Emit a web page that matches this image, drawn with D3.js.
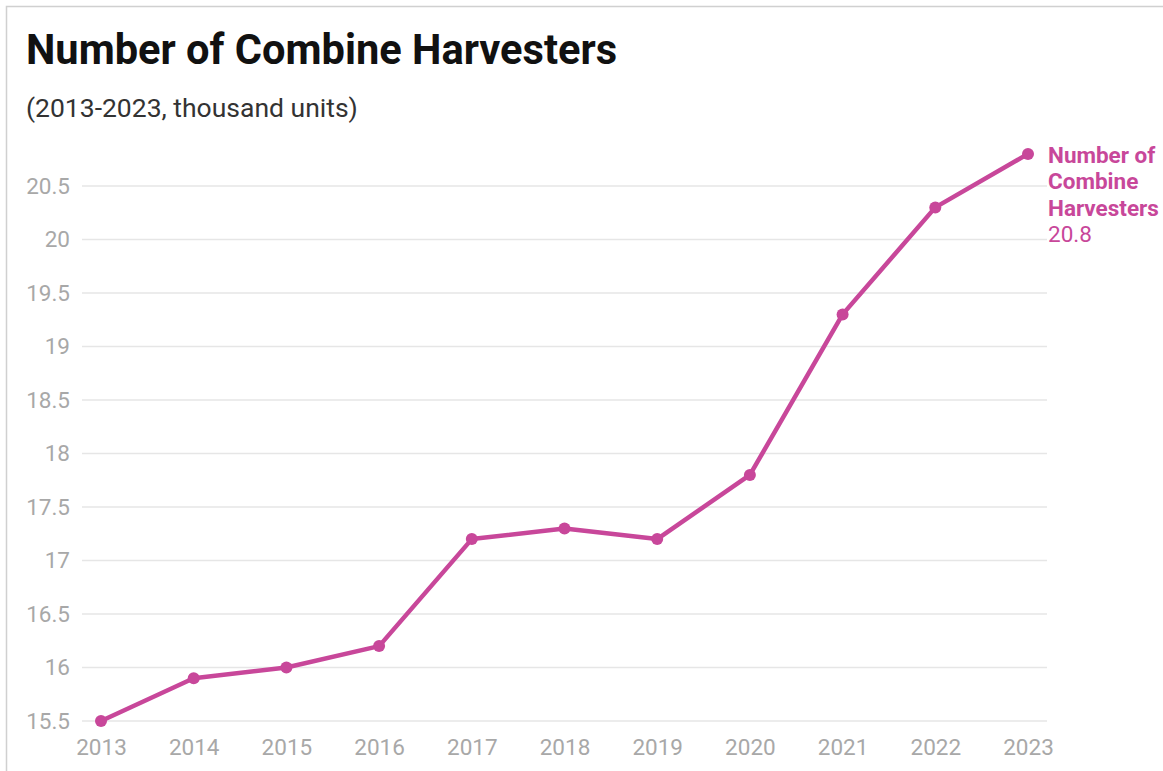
<!DOCTYPE html>
<html>
<head>
<meta charset="utf-8">
<script src="https://cdn.jsdelivr.net/npm/d3@7"></script>
<style>
  body { margin: 0; background: #fff; }
  text { font-family: Roboto, "Open Sans", sans-serif; }
</style>
</head>
<body>
<div id="chart"></div>
<script>
// data
var years = [2013, 2014, 2015, 2016, 2017, 2018, 2019, 2020, 2021, 2022, 2023];
var harvesters = [15.5, 15.9, 16.0, 16.2, 17.2, 17.3, 17.2, 17.8, 19.3, 20.3, 20.8];
var yTicks = [15.5, 16, 16.5, 17, 17.5, 18, 18.5, 19, 19.5, 20, 20.5];
var seriesName = ['Number of', 'Combine', 'Harvesters'];

var width = 1163, height = 771;
var lineColor = '#c8479a';

var svg = d3.select('#chart').append('svg')
    .attr('width', width)
    .attr('height', height);

// frame
svg.append('path')
    .attr('d', 'M6.5,771 L6.5,6.5 L1163,6.5')
    .attr('fill', 'none')
    .attr('stroke', '#d0d0d0')
    .attr('stroke-width', 1.5);

svg.append('text')
    .attr('x', 26).attr('y', 64)
    .style('font-size', '41.6px')
    .style('font-weight', 'bold')
    .attr('fill', '#111')
    .text('Number of Combine Harvesters');

svg.append('text')
    .attr('x', 26).attr('y', 117)
    .style('font-size', '26.5px')
    .attr('fill', '#333')
    .text('(2013-2023, thousand units)');

let xScale = d3.scalePoint()
    .domain(years)
    .range([101, 1028]);

let yScale = d3.scaleLinear()
    .domain([15.5, 20.5])
    .range([721, 186]);

// grid
svg.append('g')
    .selectAll('line')
    .data(yTicks)
    .enter()
    .append('line')
    .attr('x1', 82).attr('x2', 1047)
    .attr('y1', d => yScale(d)).attr('y2', d => yScale(d))
    .attr('stroke', '#e6e6e6')
    .attr('stroke-width', 1.5);

let yAxis = d3.axisLeft(yScale)
    .tickValues(yTicks)
    .tickSize(0)
    .tickPadding(0)
    .tickFormat(d => d3.format('')(d));

var gy = svg.append('g')
    .attr('transform', 'translate(70,0)')
    .call(yAxis);
gy.select('.domain').remove();
gy.selectAll('text')
    .style('font-size', '22.5px')
    .attr('fill', '#a8a8a8');

let xAxis = d3.axisBottom(xScale)
    .tickSize(0)
    .tickPadding(0);

var gx = svg.append('g')
    .attr('transform', 'translate(0,739)')
    .call(xAxis);
gx.select('.domain').remove();
gx.selectAll('text')
    .style('font-size', '22.5px')
    .attr('fill', '#a8a8a8');

// line
var line = d3.line()
    .x((d, i) => xScale(years[i]))
    .y(d => yScale(d));

svg.append('path')
    .datum(harvesters)
    .attr('d', line)
    .attr('fill', 'none')
    .attr('stroke', lineColor)
    .attr('stroke-width', 4.5)
    .attr('stroke-linejoin', 'round');

svg.selectAll('circle.pt')
    .data(harvesters)
    .enter()
    .append('circle')
    .attr('class', 'pt')
    .attr('cx', (d, i) => xScale(years[i]))
    .attr('cy', d => yScale(d))
    .attr('r', 6)
    .attr('fill', lineColor);

// end label
var last = harvesters.length - 1;
var lx = xScale(years[last]) + 20;
var ly = yScale(harvesters[last]) + 9;
var lab = svg.append('text')
    .attr('x', lx).attr('y', ly)
    .attr('fill', lineColor)
    .style('font-size', '22.5px');
seriesName.forEach(function(s, i) {
    lab.append('tspan')
        .attr('x', lx)
        .attr('dy', i == 0 ? 0 : 26.5)
        .style('font-weight', 'bold')
        .text(s);
});
lab.append('tspan')
    .attr('x', lx)
    .attr('dy', 26.5)
    .text(d3.format('.1f')(harvesters[last]));
</script>
</body>
</html>
